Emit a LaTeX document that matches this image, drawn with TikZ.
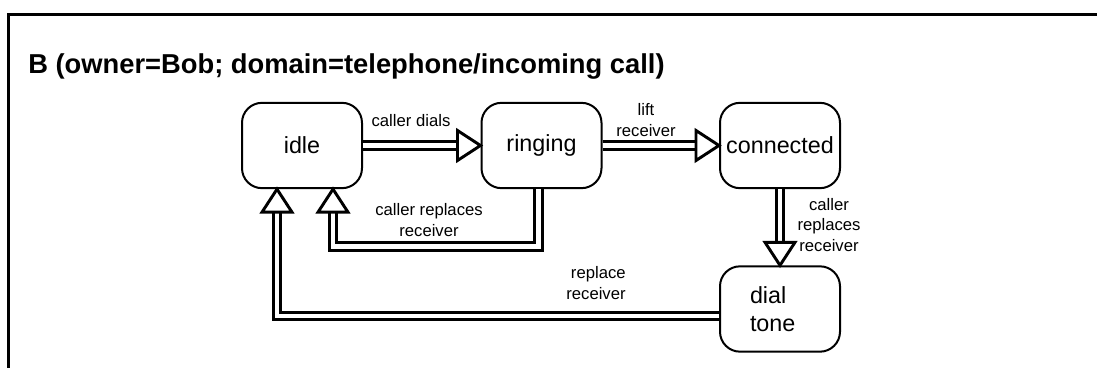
\documentclass[tikz,border=0pt]{standalone}
\usepackage{fontspec}
\setmainfont{Liberation Sans}
\usetikzlibrary{calc}

\tikzset{
  state/.style={draw, line width=1.5pt, rounded corners=15pt, minimum width=90pt,
    minimum height=64pt, font=\fontsize{17.5}{21}\selectfont},
  lbl/.style={font=\fontsize{12.5}{15.5}\selectfont, align=center, inner sep=0pt},
  dblline/.style={draw, line width=2.2pt, double=white, double distance=3.6pt},
  openhead/.pic={\draw[line width=2.2pt, fill=white, line join=miter] (0,0) -- (-23,15) -- (-23,-15) -- cycle;}
}

\begin{document}
\begin{tikzpicture}[x=0.75pt, y=-0.75pt]
  \useasboundingbox (0,0) rectangle (1097,368);

  % Frame and title
  \draw[line width=2.4pt] (8.5,368) -- (8.5,14.5) -- (1097,14.5);
  \node[anchor=base west, inner sep=0pt, font=\fontsize{20.5}{24}\selectfont\bfseries] (title) at (28,73) {B (owner=Bob; domain=telephone/incoming call)};

  % States
  \node[state] (idle) at (302,145.5) {idle};
  \node[state] (ringing) at (541.5,145.5) {ringing};
  \node[state] (connected) at (780,145.5) {connected};
  \node[state, align=left, text width=45pt, inner xsep=22.5pt] (dialtone) at (780,309) {dial\\tone};

  % Transitions
  \draw[dblline] (idle.east) -- ($(ringing.west)+(-21,0)$);
  \pic at (ringing.west) {openhead};
  \node[lbl] (dialslbl) at (411,121) {caller dials};

  \draw[dblline] (ringing.east) -- ($(connected.west)+(-21,0)$);
  \pic at (connected.west) {openhead};
  \node[lbl] (liftlbl) at (646,120) {lift\\receiver};

  \draw[dblline] (connected.south) -- ($(dialtone.north)+(0,-21)$);
  \pic[rotate=-90] at (dialtone.north) {openhead};
  \node[lbl] (hanglbl) at (829,225) {caller\\replaces\\receiver};

  \draw[dblline] ($(ringing.south)+(-3,0)$) -- ++(0,57) -| ($(idle.south)+(31,21)$);
  \pic[rotate=90] at ($(idle.south)+(31,0)$) {openhead};
  \node[lbl] (abortlbl) at (429,220) {caller replaces\\receiver};

  \draw[dblline] ($(dialtone.west)+(0,7)$) -| ($(idle.south)+(-25,21)$);
  \pic[rotate=90] at ($(idle.south)+(-25,0)$) {openhead};
  \node[lbl, align=right] (replacelbl) at (596,283) {replace\\receiver};
\end{tikzpicture}
\end{document}
